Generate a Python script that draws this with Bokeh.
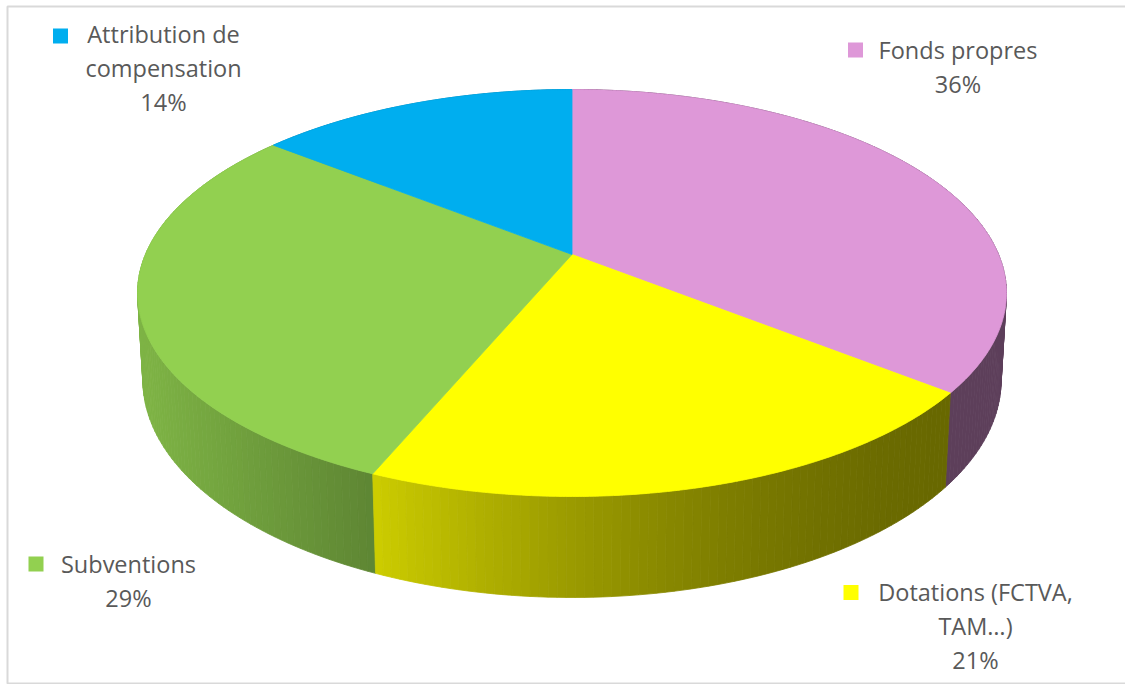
import numpy as np
from bokeh.plotting import figure
from bokeh.models import Range1d
from bokeh.core.properties import value
from bokeh.embed import file_html
from bokeh.resources import INLINE

# ---------------- data ----------------
categories = ["Fonds propres", "Dotations (FCTVA, TAM…)", "Subventions", "Attribution de compensation"]
shares = [35.7, 20.6, 29.4, 14.3]
label_lines = [["Fonds propres"], ["Dotations (FCTVA,", "TAM…)"], ["Subventions"], ["Attribution de", "compensation"]]

# ---------------- style ----------------
colors = ["#DE98D8", "#FFFF00", "#92D050", "#00AEEF"]
wall_shade = [(0.42, 0.42, 1.0), (0.80, 0.41, 1.6), (0.87, 0.65, 1.0), (0.70, 0.70, 1.0)]
TEXT_COLOR = "#595959"
FONT = "Open Sans"
FONT_SIZE = "23.5px"
LINE_H = 34
# label layout: (text centre x, first baseline y, marker centre x, marker centre y)
label_layout = [(957.5, 49, 855, 49.5), (975, 591, 850.5, 592), (128, 563, 35.5, 563.5), (163, 33, 60, 35.5)]

# projection parameters (3D pie in perspective)
CX, CY = 571.5, 254.0
M, K, C, D, Q = 426.6, 196.2, 0.1892, 0.012, 86.0


def proj(theta, H):
    X = np.sin(theta)
    Y = np.cos(theta)
    w = 1 + C * Y + D * H
    return CX + M * X / w, CY + (-K * Y + Q * H) / w


def hex_rgb(h):
    h = h.lstrip("#")
    return tuple(int(h[i:i + 2], 16) for i in (0, 2, 4))


def shade(h, f):
    r, g, b = hex_rgb(h)
    return "#%02x%02x%02x" % (int(min(255, r * f)), int(min(255, g * f)), int(min(255, b * f)))


p = figure(width=1125, height=684, x_range=Range1d(0, 1125), y_range=Range1d(684, 0),
           output_backend="svg", toolbar_location=None, min_border=0)
p.axis.visible = False
p.grid.visible = False
p.outline_line_color = None
p.background_fill_color = "white"
p.border_fill_color = "white"

total = float(sum(shares))
bounds = np.concatenate([[0], np.cumsum(shares)]) / total * 2 * np.pi

# ---- side walls (drawn back to front) ----
quads = []
for i, (a0, a1) in enumerate(zip(bounds[:-1], bounds[1:])):
    n = max(4, int(np.degrees(a1 - a0)))
    ts = np.linspace(a0, a1, n + 1)
    items = []
    for t0, t1 in zip(ts[:-1], ts[1:]):
        x0t, y0t = proj(t0, 0)
        x1t, y1t = proj(t1, 0)
        x0b, y0b = proj(t0, 1)
        x1b, y1b = proj(t1, 1)
        xm = (x0t + x1t) / 2
        items.append(([x0t, x1t, x1b, x0b], [y0t, y1t, y1b, y0b], xm, np.cos((t0 + t1) / 2)))
    xm_all = np.array([it[2] for it in items])
    xmin, xmax = xm_all.min(), xm_all.max()
    fs, fe, g = wall_shade[i]
    for xs, ys, xm, depth in items:
        t = (xm - xmin) / (xmax - xmin) if xmax > xmin else 0
        f = fe + (fs - fe) * (1 - t) ** g
        quads.append((depth, xs, ys, shade(colors[i], f)))

quads.sort(key=lambda q: -q[0])
p.patches([q[1] for q in quads], [q[2] for q in quads],
          fill_color=[q[3] for q in quads], line_color=[q[3] for q in quads], line_width=0.8)

# ---- top faces ----
tx, ty = [], []
for a0, a1 in zip(bounds[:-1], bounds[1:]):
    ts = np.linspace(a0, a1, 200)
    ax, ay = proj(ts, 0)
    tx.append([CX] + list(ax))
    ty.append([CY] + list(ay))
p.patches(tx, ty, fill_color=colors, line_color=colors, line_width=0.8)

# ---- labels ----
for i, cat in enumerate(categories):
    cx, by, mx, my = label_layout[i]
    lines = label_lines[i] + ["%d%%" % round(shares[i])]
    p.text(x=[cx] * len(lines), y=[by + k * LINE_H for k in range(len(lines))], text=lines,
           text_align="center", text_baseline="alphabetic", text_color=TEXT_COLOR,
           text_font=value(FONT), text_font_size=FONT_SIZE)
    p.rect(x=[mx], y=[my], width=15, height=15, fill_color=colors[i], line_color=None)

# ---- frame ----
p.quad(left=[7], right=[1140], top=[6], bottom=[683], fill_color=None, line_color="#D9D9D9", line_width=2)

open("out.html", "w").write(file_html(p, INLINE))
